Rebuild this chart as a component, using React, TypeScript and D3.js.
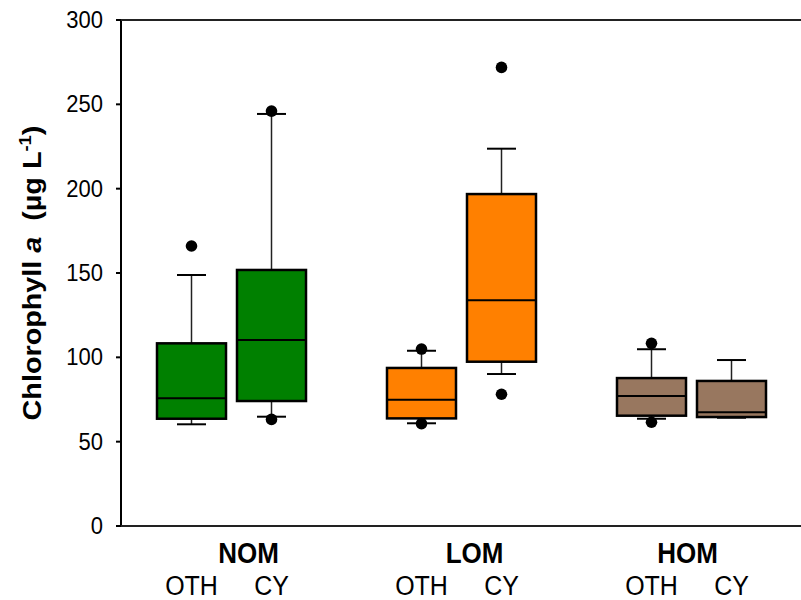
import React from 'react';
import * as d3 from 'd3';

// site groups and taxa within each group
const groups = ['NOM', 'LOM', 'HOM'];
const taxa = ['OTH', 'CY'];
const groupColors = ['#008000', '#ff8000', '#98775f'];

// box statistics, order: NOM-OTH, NOM-CY, LOM-OTH, LOM-CY, HOM-OTH, HOM-CY
const whiskerLow = [60.3, 64.8, 60.9, 90.1, 63.6, 64.2];
const quart1 = [63.6, 74.1, 63.8, 97.4, 65.4, 64.6];
const medians = [75.7, 110.3, 74.9, 133.8, 77.1, 67.4];
const quart3 = [108.3, 151.8, 93.7, 196.8, 87.7, 86.0];
const whiskerHigh = [148.8, 244.3, 103.9, 223.7, 104.8, 98.4];
const outliers = [[166], [246, 63.2], [104.9, 60.7], [271.9, 78.1], [108.3, 61.5], []];

const yTicks = [0, 50, 100, 150, 200, 250, 300];

const W = 801;
const H = 600;
const font = 'Arial, "Liberation Sans", sans-serif';

export default function App() {
  const y = d3.scaleLinear().domain([0, 300]).range([526, 20]);
  const x = d3.scaleBand().domain(groups).range([116.5, 806.5]).padding(0);
  const sub = d3.scalePoint().domain(taxa).range([-40, 40]);
  const boxW = 69;
  const capW = 29;
  const labelNudge = { NOM: 17, LOM: 13, HOM: -4 };

  const boxes = groups.flatMap((g, gi) =>
    taxa.map((t, ti) => {
      const i = gi * taxa.length + ti;
      return {
        key: g + t,
        cx: x(g) + x.bandwidth() / 2 + sub(t),
        color: groupColors[gi],
        lo: whiskerLow[i],
        q1: quart1[i],
        med: medians[i],
        q3: quart3[i],
        hi: whiskerHigh[i],
        out: outliers[i],
      };
    })
  );

  return (
    <svg width={W} height={H} style={{ position: 'absolute', left: 0, top: 0, background: '#fff' }}>
      {/* frame */}
      <line x1={121} x2={121} y1={y(300)} y2={y(0)} stroke="#000" strokeWidth={2} />
      <line x1={116} x2={W} y1={y(300)} y2={y(300)} stroke="#222" strokeWidth={2} />
      <line x1={116} x2={W} y1={y(0)} y2={y(0)} stroke="#222" strokeWidth={2} />

      {/* y ticks */}
      {yTicks.map(t => (
        <g key={t}>
          <line x1={116} x2={121} y1={y(t)} y2={y(t)} stroke="#000" strokeWidth={2} />
          <text
            transform={`translate(103,${y(t) + 8}) scale(1,1.1)`}
            textAnchor="end"
            fontFamily={font}
            fontSize={22}
          >
            {t}
          </text>
        </g>
      ))}

      {/* y label */}
      <text
        transform={`translate(41,273) rotate(-90) scale(1.15,1)`}
        textAnchor="middle"
        fontFamily={font}
        fontSize={25}
        fontWeight="bold"
        style={{ whiteSpace: 'pre' }}
      >
        <tspan>Chlorophyll </tspan>
        <tspan fontStyle="italic">a</tspan>
        <tspan>{'  (µg L'}</tspan>
        <tspan fontSize={16} dy={-10}>-1</tspan>
        <tspan dy={10}>)</tspan>
      </text>

      {/* boxes */}
      {boxes.map(b => (
        <g key={b.key}>
          <line x1={b.cx} x2={b.cx} y1={y(b.q3)} y2={y(b.hi)} stroke="#222" strokeWidth={1.5} />
          <line x1={b.cx} x2={b.cx} y1={y(b.q1)} y2={y(b.lo)} stroke="#222" strokeWidth={1.5} />
          <line x1={b.cx - capW / 2} x2={b.cx + capW / 2} y1={y(b.hi)} y2={y(b.hi)} stroke="#000" strokeWidth={2} />
          <line x1={b.cx - capW / 2} x2={b.cx + capW / 2} y1={y(b.lo)} y2={y(b.lo)} stroke="#000" strokeWidth={2} />
          <rect
            x={b.cx - boxW / 2}
            y={y(b.q3)}
            width={boxW}
            height={y(b.q1) - y(b.q3)}
            fill={b.color}
            stroke="#000"
            strokeWidth={2.5}
          />
          <line x1={b.cx - boxW / 2} x2={b.cx + boxW / 2} y1={y(b.med)} y2={y(b.med)} stroke="#000" strokeWidth={2} />
          {b.out.map((v, k) => (
            <circle key={k} cx={b.cx} cy={y(v)} r={5.8} fill="#000" />
          ))}
        </g>
      ))}

      {/* x labels */}
      {groups.map(g => (
        <g key={g}>
          <text
            transform={`translate(${x(g) + x.bandwidth() / 2 + labelNudge[g]},563) scale(1,1.12)`}
            textAnchor="middle"
            fontFamily={font}
            fontSize={26}
            fontWeight="bold"
          >
            {g}
          </text>
          {taxa.map(t => (
            <text
              key={t}
              transform={`translate(${x(g) + x.bandwidth() / 2 + sub(t)},595) scale(1,1.12)`}
              textAnchor="middle"
              fontFamily={font}
              fontSize={25}
            >
              {t}
            </text>
          ))}
        </g>
      ))}
    </svg>
  );
}
